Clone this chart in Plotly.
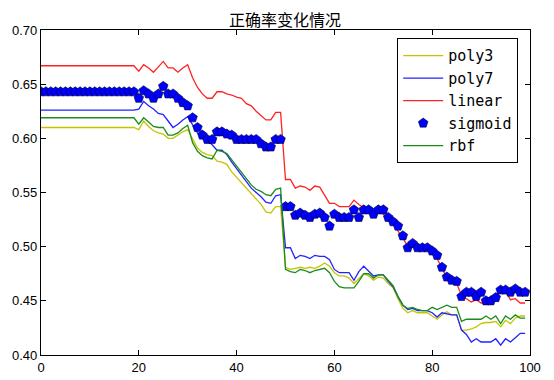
import plotly.graph_objects as go

x_vals = list(range(100))

poly3 = [0.610]*20 + [
    0.608, 0.616, 0.611, 0.607, 0.605, 0.604, 0.600, 0.600, 0.603, 0.606,
    0.608, 0.599, 0.591, 0.587, 0.585, 0.584, 0.579, 0.578, 0.576, 0.569,
    0.564, 0.558, 0.553, 0.548, 0.543, 0.539, 0.532, 0.531, 0.537, 0.537,
    0.481, 0.479, 0.480, 0.481, 0.480, 0.481, 0.480, 0.482, 0.485, 0.482,
    0.476, 0.473, 0.473, 0.471, 0.466, 0.471, 0.475, 0.473, 0.469, 0.472,
    0.471, 0.466, 0.462, 0.452, 0.443, 0.439, 0.441, 0.439, 0.439, 0.439,
    0.436, 0.433, 0.437, 0.440, 0.437, 0.437, 0.423, 0.423, 0.424, 0.426,
    0.429, 0.430, 0.430, 0.431, 0.426, 0.432, 0.429, 0.434, 0.436, 0.436]

poly7 = [0.626]*20 + [
    0.627, 0.634, 0.630, 0.627, 0.623, 0.622, 0.616, 0.610, 0.613, 0.617,
    0.620, 0.612, 0.605, 0.601, 0.598, 0.594, 0.589, 0.589, 0.585, 0.578,
    0.572, 0.566, 0.560, 0.554, 0.550, 0.546, 0.541, 0.540, 0.547, 0.548,
    0.499, 0.499, 0.489, 0.492, 0.491, 0.489, 0.492, 0.491, 0.491, 0.488,
    0.479, 0.476, 0.476, 0.476, 0.469, 0.477, 0.482, 0.477, 0.473, 0.474,
    0.474, 0.468, 0.463, 0.454, 0.446, 0.442, 0.443, 0.441, 0.441, 0.441,
    0.439, 0.435, 0.439, 0.438, 0.437, 0.437, 0.423, 0.419, 0.412, 0.415,
    0.412, 0.412, 0.412, 0.415, 0.409, 0.415, 0.412, 0.416, 0.420, 0.420]

linear = [0.667]*20 + [
    0.662, 0.668, 0.665, 0.661, 0.666, 0.671, 0.665, 0.665, 0.661, 0.665,
    0.668, 0.656, 0.647, 0.641, 0.637, 0.637, 0.643, 0.643, 0.641, 0.640,
    0.638, 0.637, 0.632, 0.630, 0.625, 0.621, 0.617, 0.617, 0.624, 0.624,
    0.562, 0.562, 0.554, 0.556, 0.555, 0.552, 0.556, 0.555, 0.547, 0.540,
    0.540, 0.537, 0.537, 0.537, 0.543, 0.539, 0.536, 0.534, 0.530, 0.533,
    0.530, 0.526, 0.521, 0.515, 0.508, 0.500, 0.503, 0.497, 0.497, 0.497,
    0.494, 0.489, 0.480, 0.471, 0.468, 0.466, 0.455, 0.452, 0.449, 0.451,
    0.448, 0.448, 0.449, 0.454, 0.459, 0.459, 0.451, 0.452, 0.448, 0.448]

sigmoid = [0.643]*20 + [
    0.637, 0.644, 0.641, 0.637, 0.641, 0.648, 0.641, 0.641, 0.637, 0.633,
    0.630, 0.619, 0.610, 0.603, 0.599, 0.599, 0.606, 0.606, 0.604, 0.603,
    0.599, 0.599, 0.599, 0.599, 0.599, 0.595, 0.592, 0.592, 0.599, 0.599,
    0.537, 0.537, 0.529, 0.531, 0.529, 0.527, 0.530, 0.531, 0.527, 0.519,
    0.530, 0.527, 0.527, 0.527, 0.534, 0.527, 0.534, 0.534, 0.530, 0.534,
    0.534, 0.527, 0.523, 0.519, 0.510, 0.499, 0.503, 0.499, 0.499, 0.499,
    0.496, 0.492, 0.481, 0.472, 0.469, 0.468, 0.454, 0.458, 0.458, 0.454,
    0.458, 0.450, 0.450, 0.453, 0.460, 0.460, 0.458, 0.461, 0.458, 0.458]

rbf = [0.619]*20 + [
    0.613, 0.619, 0.615, 0.611, 0.610, 0.610, 0.603, 0.603, 0.605, 0.609,
    0.612, 0.596, 0.588, 0.584, 0.582, 0.581, 0.589, 0.588, 0.586, 0.580,
    0.574, 0.568, 0.562, 0.557, 0.553, 0.551, 0.548, 0.547, 0.553, 0.554,
    0.479, 0.477, 0.476, 0.479, 0.478, 0.476, 0.478, 0.479, 0.480, 0.476,
    0.468, 0.463, 0.462, 0.462, 0.462, 0.468, 0.475, 0.475, 0.471, 0.474,
    0.474, 0.469, 0.464, 0.454, 0.446, 0.443, 0.444, 0.442, 0.441, 0.441,
    0.444, 0.442, 0.444, 0.446, 0.444, 0.444, 0.431, 0.433, 0.433, 0.433,
    0.433, 0.436, 0.433, 0.436, 0.429, 0.436, 0.433, 0.437, 0.434, 0.434]

x_ticks = [0, 20, 40, 60, 80, 100]
y_ticks = [0.40, 0.45, 0.50, 0.55, 0.60, 0.65, 0.70]
y_tick_labels = ["0.40", "0.45", "0.50", "0.55", "0.60", "0.65", "0.70"]

fig = go.Figure()
fig.add_trace(go.Scatter(x=x_vals, y=poly3, mode="lines", name="poly3",
                         line=dict(color="#c4c400", width=1.3)))
fig.add_trace(go.Scatter(x=x_vals, y=poly7, mode="lines", name="poly7",
                         line=dict(color="#2222ff", width=1.3)))
fig.add_trace(go.Scatter(x=x_vals, y=linear, mode="lines", name="linear",
                         line=dict(color="#ff2222", width=1.3)))
fig.add_trace(go.Scatter(x=x_vals, y=sigmoid, mode="markers", name="sigmoid",
                         marker=dict(symbol="pentagon", size=10, color="#0000ff",
                                     line=dict(color="#000033", width=0.6))))
fig.add_trace(go.Scatter(x=x_vals, y=rbf, mode="lines", name="rbf",
                         line=dict(color="#1a8c1a", width=1.3)))

axis_common = dict(showline=True, linecolor="black", linewidth=1.3, mirror="ticks",
                   ticks="inside", ticklen=5, tickcolor="black", showgrid=False,
                   zeroline=False, automargin=False,
                   tickfont=dict(family="Liberation Sans, Arial, sans-serif", size=13, color="black"))

# The page body has an 8px default margin, so the figure is shrunk and margins offset.
fig.update_layout(
    width=546, height=372,
    margin=dict(l=33, r=24, t=22, b=25),
    paper_bgcolor="white", plot_bgcolor="white",
    title=dict(text="正确率变化情况", x=0.5073, xanchor="center", y=0.9675, yanchor="middle",
               font=dict(family="Noto Sans CJK SC", size=16, color="black"),
               automargin=False),
    xaxis=dict(range=[0, 100], tickvals=x_ticks, **axis_common),
    yaxis=dict(range=[0.40, 0.70], tickvals=y_ticks, ticktext=y_tick_labels, **axis_common),
    legend=dict(x=0.728, y=0.975, xanchor="left", yanchor="top",
                bordercolor="black", borderwidth=1.2, bgcolor="white",
                font=dict(family="DejaVu Sans Mono", size=15, color="black"),
                itemwidth=40, tracegroupgap=0),
    showlegend=True,
)

fig.write_html("out.html")
